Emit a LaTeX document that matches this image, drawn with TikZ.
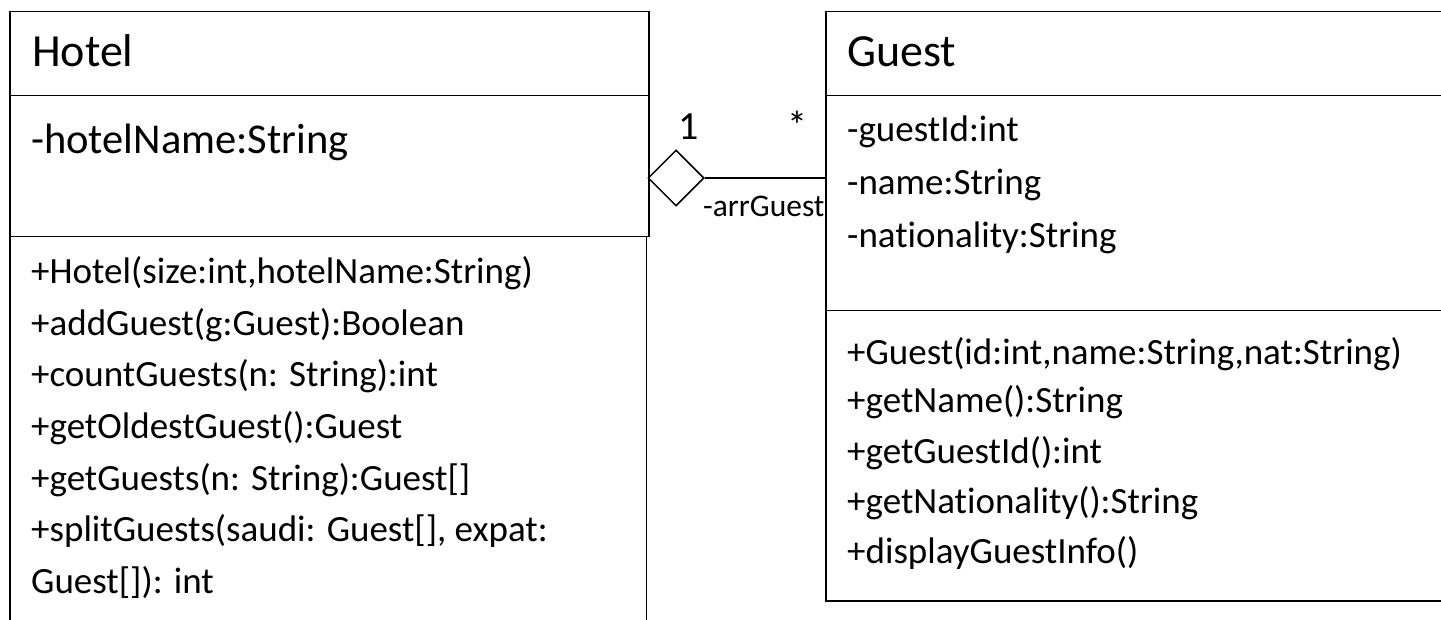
\documentclass[tikz,border=0pt]{standalone}
\usepackage{fontspec}
\setmainfont{Carlito}[Ligatures={NoCommon}]
\usetikzlibrary{shapes.geometric}
\begin{document}
\begin{tikzpicture}[x=1pt,y=-1pt,
  comp/.style={draw, line width=1.5pt, rectangle, inner sep=0pt, anchor=north west},
  ttl/.style={anchor=base west, inner sep=0pt, font=\fontsize{46}{55}\selectfont},
  attr/.style={anchor=base west, inner sep=0pt, font=\fontsize{42.5}{50}\selectfont},
  txt/.style={anchor=base west, inner sep=0pt, font=\fontsize{37}{44}\selectfont},
  mult/.style={anchor=base, inner sep=0pt, font=\fontsize{40}{48}\selectfont},
  role/.style={anchor=base west, inner sep=0pt, font=\fontsize{31.5}{38}\selectfont},
  aggr/.style={draw, line width=1.5pt, shape=diamond, aspect=1, inner sep=0pt, minimum width=56pt, minimum height=56pt},
  conn/.style={line width=1.5pt}]
\useasboundingbox (0,0) rectangle (1441,620);
\clip (0,0) rectangle (1441,620);
% Hotel class
\node[comp, minimum width=639pt, minimum height=84pt] (htitle) at (9,11) {};
\node[comp, minimum width=639pt, minimum height=140.7pt] (hattr) at (9,95) {};
\node[comp, minimum width=636.7pt, minimum height=404pt] (hmeth) at (9,235.7) {};
\node[ttl] (hname) at (32,67) {Hotel};
\node[attr] (ha1) at (31,154) {-hotelName:String};
\node[txt] (hm1) at (31,284) {+Hotel(size:int,hotelName:String)};
\node[txt] (hm2) at (31,335.5) {+addGuest(g:Guest):Boolean};
\node[txt] (hm3) at (31,387) {+countGuests(n: String):int};
\node[txt] (hm4) at (31,438.5) {+getOldestGuest():Guest};
\node[txt] (hm5) at (31,490) {+getGuests(n: String):Guest[]};
\node[txt] (hm6) at (31,541.5) {+splitGuests(saudi: Guest[], expat:};
\node[txt] (hm7) at (31,593) {Guest[]): int};
% Guest class
\node[comp, minimum width=625pt, minimum height=84pt] (gtitle) at (825,11) {};
\node[comp, minimum width=625pt, minimum height=215pt] (gattr) at (825,95) {};
\node[comp, minimum width=625pt, minimum height=290pt] (gmeth) at (825,310) {};
\node[ttl] (gname) at (847,67) {Guest};
\node[txt] (ga1) at (847,142) {-guestId:int};
\node[txt] (ga2) at (847,195) {-name:String};
\node[txt] (ga3) at (847,248) {-nationality:String};
\node[txt] (gm1) at (847,364) {+Guest(id:int,name:String,nat:String)};
\node[txt] (gm2) at (847,413) {+getName():String};
\node[txt] (gm3) at (847,463) {+getGuestId():int};
\node[txt] (gm4) at (847,513) {+getNationality():String};
\node[txt] (gm5) at (847,563) {+displayGuestInfo()};
% aggregation
\node[aggr] (dia) at (676,178) {};
\coordinate (gend) at (825,178);
\draw[conn] (dia.east) -- (gend);
\node[mult] (m1) at (689,140) {1};
\node[mult] (m2) at (797,140) {*};
\node[role] (r1) at (703,216.7) {-arrGuest};
\end{tikzpicture}
\end{document}
